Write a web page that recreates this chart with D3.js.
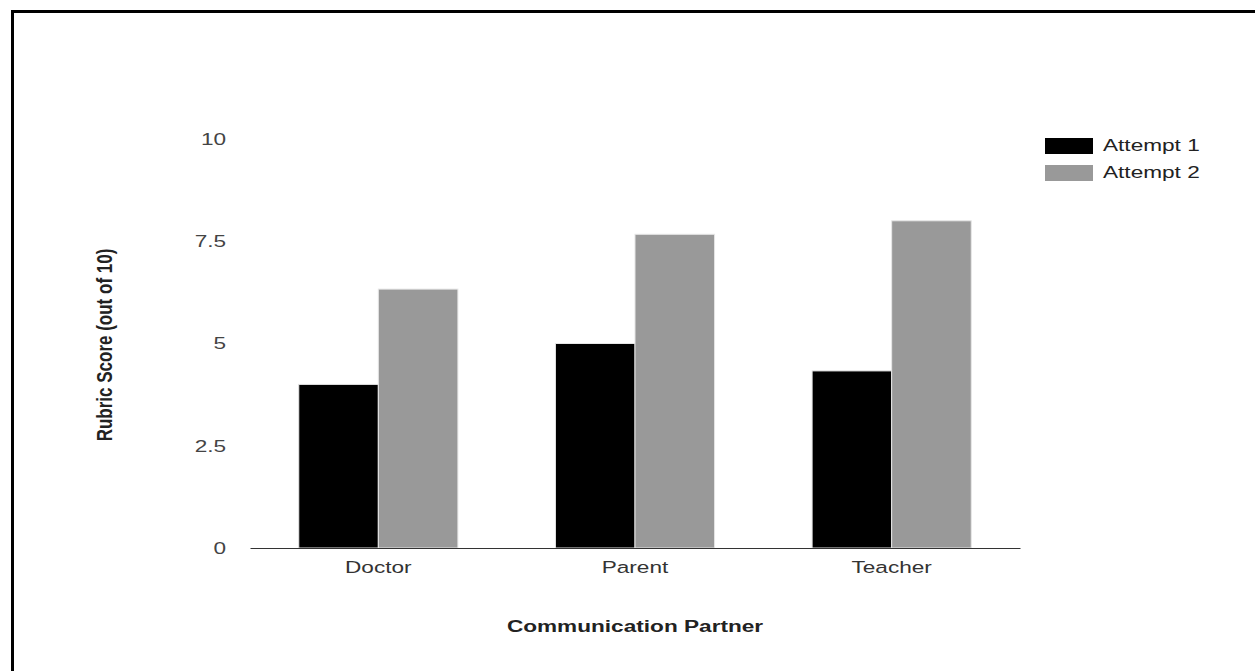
<!DOCTYPE html>
<html>
<head>
<meta charset="utf-8">
<script src="https://cdn.jsdelivr.net/npm/d3@7"></script>
<style>
  body { margin: 0; background: #fff; }
  text { font-family: Arial, "Liberation Sans", sans-serif; }
</style>
</head>
<body>
<div id="chart"></div>
<script>
const categories = ["Doctor", "Parent", "Teacher"]
const seriesNames = ["Attempt 1", "Attempt 2"]
const attempt1 = [4, 5, 4.33]
const attempt2 = [6.33, 7.67, 8]
const yTicks = [0, 2.5, 5, 7.5, 10]
const colors = ["#000000", "#999999"]

const W = 1255, H = 671
const MARGIN = {TOP: 139, BOTTOM: 123, LEFT: 250, RIGHT: 235}
const WIDTH = W - MARGIN.LEFT - MARGIN.RIGHT
const HEIGHT = H - MARGIN.TOP - MARGIN.BOTTOM
// the picture is stretched sideways, so text gets the same stretch
const SX = 1.33

const rows = categories.map((c, i) => ({cat: c, values: [attempt1[i], attempt2[i]]}))

const svg = d3.select("#chart").append("svg")
  .attr("width", W)
  .attr("height", H)

svg.append("rect").attr("width", W).attr("height", H).attr("fill", "#fff")

// frame
svg.append("path")
  .attr("d", `M12.5,${H} V11.5 H${W}`)
  .attr("fill", "none")
  .attr("stroke", "#000")
  .attr("stroke-width", 3)

const g = svg.append("g")
  .attr("transform", `translate(${MARGIN.LEFT}, ${MARGIN.TOP})`)

const y = d3.scaleLinear()
  .domain([0, 10])
  .range([HEIGHT, 0])

const x0 = d3.scaleBand()
  .domain(categories)
  .range([0, WIDTH])
  .paddingInner(0.38)
  .paddingOuter(0.19)

const x1 = d3.scaleBand()
  .domain(d3.range(seriesNames.length))
  .range([0, x0.bandwidth()])

// y axis (labels only)
const yAxis = g.append("g")
  .call(d3.axisLeft(y).tickValues(yTicks).tickSize(0).tickPadding(18).tickFormat(d3.format("")))
yAxis.select(".domain").remove()
yAxis.selectAll("text")
  .attr("fill", "#444")
  .style("font-size", "17px")
  .attr("transform", `scale(${SX},1)`)

// bars
g.selectAll("g.cat")
  .data(rows)
  .enter().append("g")
    .attr("class", "cat")
    .attr("transform", d => `translate(${x0(d.cat)},0)`)
  .selectAll("rect")
  .data(d => d.values)
  .enter().append("rect")
    .attr("x", (d, i) => x1(i))
    .attr("y", d => y(d))
    .attr("width", x1.bandwidth())
    .attr("height", d => HEIGHT - y(d))
    .attr("fill", (d, i) => colors[i])
    .attr("stroke", "#e6e6e6")
    .attr("stroke-width", 1)

// x axis
const xAxis = g.append("g")
  .attr("transform", `translate(0, ${HEIGHT})`)
  .call(d3.axisBottom(x0).tickSize(0).tickSizeOuter(0).tickPadding(13))
xAxis.select(".domain").attr("stroke", "#333")
xAxis.selectAll("text")
  .attr("fill", "#333")
  .style("font-size", "17px")
  .attr("transform", `scale(${SX},1)`)

// axis titles
svg.append("text")
  .attr("text-anchor", "middle")
  .attr("transform", `translate(${MARGIN.LEFT + WIDTH / 2}, 632) scale(${SX},1)`)
  .attr("fill", "#222")
  .style("font-size", "17px")
  .style("font-weight", "bold")
  .text("Communication Partner")

svg.append("text")
  .attr("text-anchor", "middle")
  .attr("transform", `translate(112, 345) scale(${SX},1) rotate(-90)`)
  .attr("fill", "#222")
  .style("font-size", "17px")
  .style("font-weight", "bold")
  .text("Rubric Score (out of 10)")

// legend
const legend = svg.append("g")
  .attr("transform", "translate(1045, 138)")

const items = legend.selectAll("g")
  .data(seriesNames)
  .enter().append("g")
    .attr("transform", (d, i) => `translate(0, ${i * 27})`)

items.append("rect")
  .attr("width", 48)
  .attr("height", 16)
  .attr("fill", (d, i) => colors[i])

items.append("text")
  .attr("transform", `translate(58, 13) scale(${SX},1)`)
  .attr("fill", "#222")
  .style("font-size", "17px")
  .text(d => d)
</script>
</body>
</html>
